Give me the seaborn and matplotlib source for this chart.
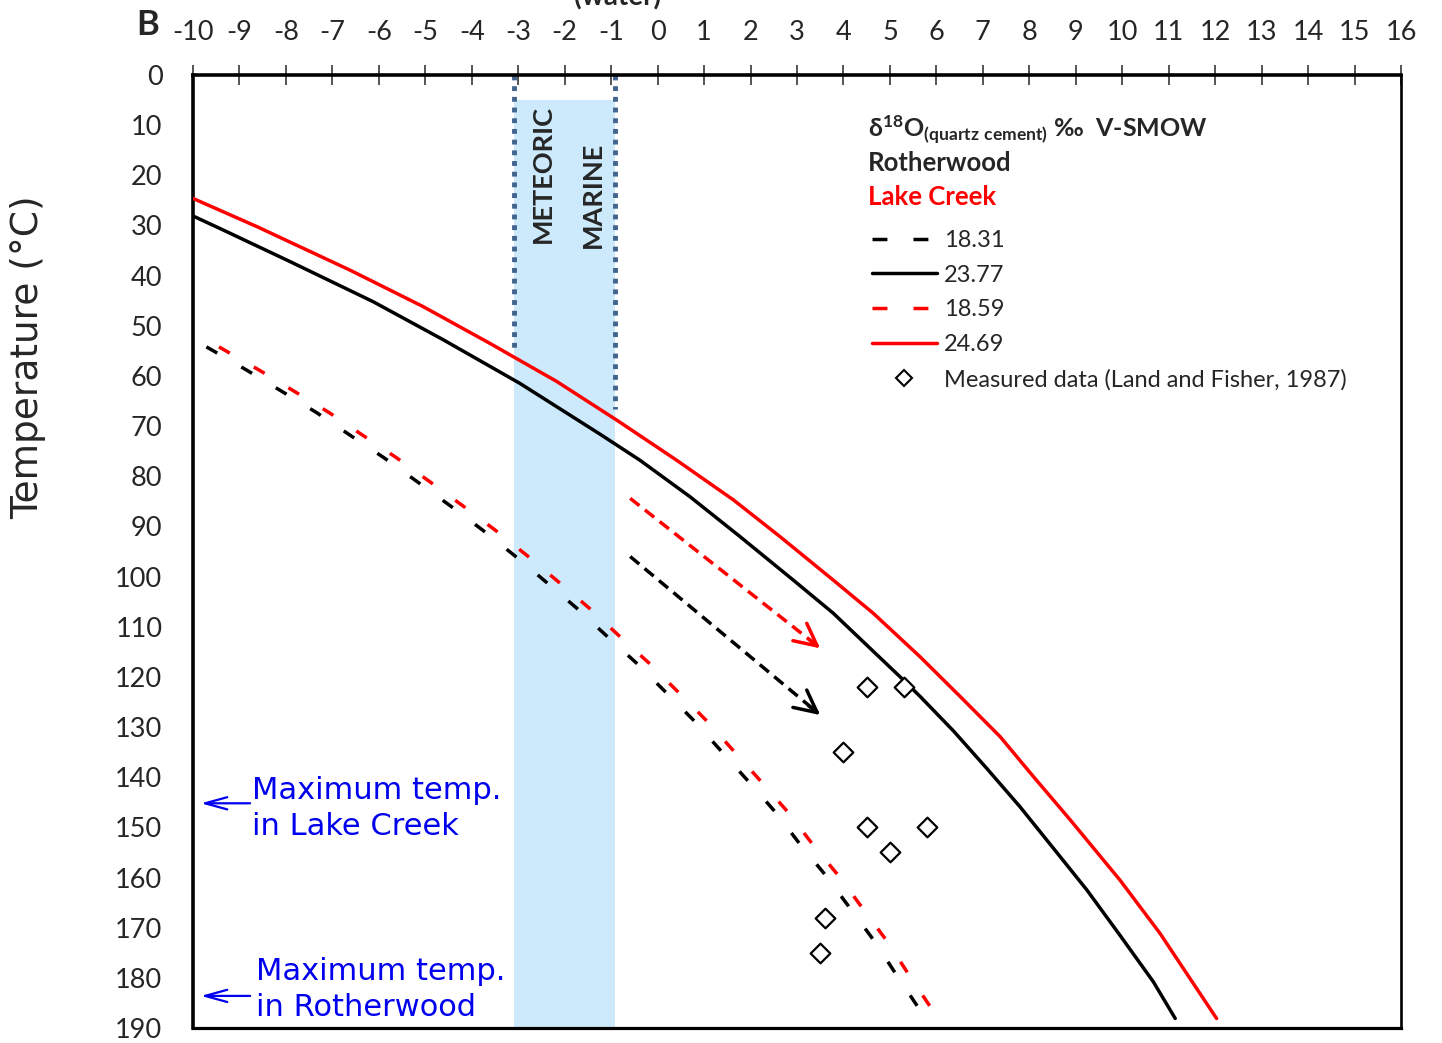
import seaborn as sns
import matplotlib.pyplot as plt
from matplotlib.lines import Line2D

# ---------------------------------------
# Data (x = d18O water, y = temperature in C)
# ---------------------------------------
# Rotherwood, d18O quartz cement = 23.77 (solid black)
rw_hi_d18o = [-10.0, -9.35, -7.91, -6.12, -4.61, -2.96, -1.24, -0.38, 0.70, 1.77,
              2.92, 3.78, 5.22, 5.65, 6.37, 7.08, 7.80, 8.66, 9.24, 9.95, 10.67, 11.14]
rw_hi_temp = [28.1, 30.9, 37.2, 45.2, 52.8, 61.5, 71.6, 76.8, 84.1, 92.0,
              100.7, 107.3, 120.0, 123.9, 130.8, 138.2, 145.9, 155.8, 162.5, 171.5, 180.8, 188.1]

# Lake Creek, 24.69 (solid red)
lc_hi_d18o = [-10.0, -8.63, -6.62, -5.04, -3.61, -2.17, -0.88, 0.41, 1.63, 2.63,
              3.78, 4.64, 5.65, 6.51, 7.37, 8.09, 8.88, 9.95, 10.81, 12.03]
lc_hi_temp = [24.6, 30.2, 38.9, 46.2, 53.5, 61.1, 68.8, 76.8, 84.7, 92.0,
              100.7, 107.3, 116.0, 123.9, 131.9, 139.9, 148.5, 160.5, 171.1, 188.1]

# Rotherwood, 18.31 (dashed black)
rw_lo_d18o = [-9.71, -8.85, -8.10, -7.34, -6.62, -5.89, -5.17, -4.46, -3.77, -3.08, -2.41, -1.74,
              -1.10, -0.46, 0.16, 0.78, 1.99, 2.53, 3.06, 3.62, 4.14, 4.66, 5.14, 5.63, 5.70]
rw_lo_temp = [54.2, 58.8, 63.0, 67.3, 71.8, 76.3, 81.1, 85.9, 90.7, 95.8, 101.0, 106.3,
              111.8, 117.2, 122.9, 128.7, 141.2, 146.9, 153.3, 159.6, 166.1, 172.6, 179.4, 186.2, 187.8]

# Lake Creek, 18.59 (dashed red)
lc_lo_d18o = [-9.44, -8.58, -7.83, -7.07, -6.35, -5.62, -4.90, -4.19, -3.50, -2.81, -2.14, -1.47,
              -0.83, -0.19, 0.43, 1.05, 2.26, 2.80, 3.33, 3.89, 4.41, 4.93, 5.41, 5.90, 5.97]
lc_lo_temp = [54.2, 58.8, 63.0, 67.3, 71.8, 76.3, 81.1, 85.9, 90.7, 95.8, 101.0, 106.3,
              111.8, 117.2, 122.9, 128.7, 141.2, 146.9, 153.3, 159.6, 166.1, 172.6, 179.4, 186.2, 187.8]

# Measured data (Land and Fisher, 1987)
meas_d18o = [4.5, 5.3, 4.0, 4.5, 5.8, 5.0, 3.6, 3.5]
meas_temp = [122, 122, 135, 150, 150, 155, 168, 175]

# shaded meteoric / marine band and its dotted edges
band_d18o = [-3.1, -0.92]
band_temp = [5, 190]
edge_top = [54.5, 66.5]

# dashed shift arrows (start, end)
arrow_lc = [(-0.59, 84.4), (3.50, 114.3)]
arrow_rw = [(-0.59, 96.0), (3.50, 127.6)]

# maximum temperature notes
max_temp_lc = 145.2
max_temp_rw = 183.6

x_ticks = list(range(-10, 17))
y_ticks = list(range(0, 200, 10))

# ---------------------------------------
# Style
# ---------------------------------------
sns.set_style("white")
plt.rcParams["font.family"] = ["Lato", "DejaVu Sans"]
plt.rcParams["axes.unicode_minus"] = False
plt.rcParams["mathtext.fontset"] = "custom"
plt.rcParams["mathtext.rm"] = "Lato"
plt.rcParams["mathtext.bf"] = "Lato:bold"
plt.rcParams["mathtext.fallback"] = "stixsans"

fig = plt.figure(figsize=(14.42, 10.43), dpi=100)
ax = fig.add_axes([0.1338, 0.01438, 0.8378, 0.9137])

LW = 2.5
dash_plot = (0, (3.6, 8.0))
dash_leg = (0, (4.3, 7.5))

# band
ax.fill_betweenx(band_temp, band_d18o[0], band_d18o[1], color="#cceafb", lw=0, zorder=0)
for xv, yt in zip(band_d18o, edge_top):
    ax.plot([xv, xv], [0, yt], color="#41648f", lw=3.5, linestyle=(0, (1, 1.2)),
            dash_capstyle="butt", zorder=1, clip_on=False)

ax.text(-2.47, 19.8, "METEORIC", rotation=90, ha="center", va="center",
        fontsize=19.5, fontweight="bold")
ax.text(-1.39, 23.8, "MARINE", rotation=90, ha="center", va="center",
        fontsize=19.5, fontweight="bold")

# curves
sns.lineplot(x=rw_lo_d18o, y=rw_lo_temp, color="black", lw=LW, linestyle=dash_plot,
             sort=False, estimator=None, ax=ax, zorder=3)
sns.lineplot(x=lc_lo_d18o, y=lc_lo_temp, color="red", lw=LW, linestyle=dash_plot,
             sort=False, estimator=None, ax=ax, zorder=3)
sns.lineplot(x=rw_hi_d18o, y=rw_hi_temp, color="black", lw=LW,
             sort=False, estimator=None, ax=ax, zorder=3)
sns.lineplot(x=lc_hi_d18o, y=lc_hi_temp, color="red", lw=LW,
             sort=False, estimator=None, ax=ax, zorder=3)

sns.scatterplot(x=meas_d18o, y=meas_temp, marker="D", s=100, facecolor="white",
                edgecolor="black", linewidth=1.6, ax=ax, zorder=4)

# shift arrows: dashed shaft + solid open head
for (p0, p1), col in [(arrow_lc, "red"), (arrow_rw, "black")]:
    ax.plot([p0[0], p1[0] - 0.05], [p0[1], p1[1] - 0.4], color=col, lw=LW,
            linestyle=(0, (3.4, 2.0)), zorder=3)
    ax.annotate("", xy=p1, xytext=(p1[0] - 0.25, p1[1] - 1.85),
                arrowprops=dict(arrowstyle="->,head_length=0.8,head_width=0.4",
                                color=col, lw=LW, mutation_scale=20,
                                shrinkA=0, shrinkB=0))

# maximum temperature notes
for yv in [max_temp_lc, max_temp_rw]:
    ax.annotate("", xy=(-9.83, yv), xytext=(-8.77, yv),
                arrowprops=dict(arrowstyle="->,head_length=0.8,head_width=0.22",
                                color="#0000ee", lw=1.6, mutation_scale=20,
                                shrinkA=0, shrinkB=0))
ax.text(-8.73, 146.3, "Maximum temp.\nin Lake Creek", color="#0000ee", fontsize=22,
        family="DejaVu Sans", ha="left", va="center", linespacing=1.3)
ax.text(-8.64, 182.4, "Maximum temp.\nin Rotherwood", color="#0000ee", fontsize=22,
        family="DejaVu Sans", ha="left", va="center", linespacing=1.3)

# legend block
ax.text(4.53, 10.8, r"$\mathbf{\delta^{18}O_{(quartz\ cement)}}$ ‰  V-SMOW", fontsize=18,
        fontweight="bold", ha="left", va="center")
ax.text(4.53, 17.5, "Rotherwood", fontsize=18.5, fontweight="bold", ha="left", va="center")
ax.text(4.53, 24.3, "Lake Creek", fontsize=18.5, fontweight="bold", color="red",
        ha="left", va="center")

handles = [
    Line2D([], [], color="black", lw=LW, linestyle=dash_leg),
    Line2D([], [], color="black", lw=LW),
    Line2D([], [], color="red", lw=LW, linestyle=dash_leg),
    Line2D([], [], color="red", lw=LW),
    Line2D([], [], marker="D", ms=8, mfc="white", mec="black", mew=1.5, lw=0),
]
labels = ["18.31", "23.77", "18.59", "24.69", "Measured data (Land and Fisher, 1987)"]
ax.legend(handles, labels, loc="upper left", bbox_to_anchor=(0.562, 0.8375),
          frameon=False, fontsize=17, handlelength=2.75, handletextpad=0.3,
          labelspacing=0.58, borderpad=0, borderaxespad=0)

# axes
ax.set_xlim(-10, 16)
ax.set_ylim(190, 0)
ax.xaxis.tick_top()
ax.set_xticks(x_ticks)
ax.set_yticks(y_ticks)
ax.tick_params(axis="x", direction="inout", length=15, width=1.1, labelsize=19.5, pad=14,
               bottom=False, top=True)
ax.tick_params(axis="y", direction="inout", length=16, width=2, labelsize=19.5, pad=14,
               right=False)
for name, w in [("top", 2.6), ("left", 2.6), ("bottom", 2.3), ("right", 1.9)]:
    ax.spines[name].set_visible(True)
    ax.spines[name].set_linewidth(w)
    ax.spines[name].set_color("black")

fig.text(28 / 1442, 1 - 357 / 1043, "Temperature (°C)", rotation=90, ha="center",
         va="center", fontsize=27, family="DejaVu Sans")
fig.text(148 / 1442, 1 - 25 / 1043, "B", ha="center", va="center", fontsize=25,
         fontweight="bold")
fig.text(618 / 1442, 1 - 5 / 1043, "(water)", ha="center", va="baseline", fontsize=20,
         fontweight="bold")

fig.savefig("out.png", dpi=100)
